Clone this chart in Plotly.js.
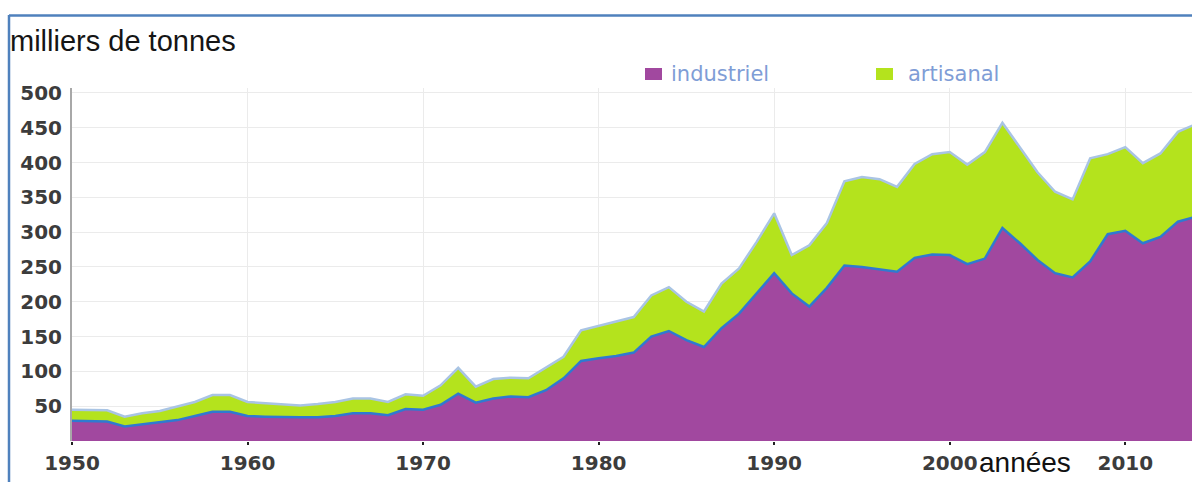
<!DOCTYPE html>
<html>
<head>
<meta charset="utf-8">
<script src="https://cdn.plot.ly/plotly-3.0.1.min.js"></script>
<style>
html,body{margin:0;padding:0;background:#fff;}
#chart{width:1192px;height:482px;}
</style>
</head>
<body>
<div id="chart"></div>
<script>
// ---- data ----
const years = [1950,1951,1952,1953,1954,1955,1956,1957,1958,1959,
  1960,1961,1962,1963,1964,1965,1966,1967,1968,1969,
  1970,1971,1972,1973,1974,1975,1976,1977,1978,1979,
  1980,1981,1982,1983,1984,1985,1986,1987,1988,1989,
  1990,1991,1992,1993,1994,1995,1996,1997,1998,1999,
  2000,2001,2002,2003,2004,2005,2006,2007,2008,2009,
  2010,2011,2012,2013,2014];
const industriel = [29,29,28,21,24,26,30,36,42,42,
  36,35,34,34,34,36,40,40,37,46,
  45,52,68,55,61,64,63,73,90,115,
  119,122,127,150,158,145,135,162,183,212,
  241,212,193,220,252,250,246,243,263,268,
  267,254,262,306,284,260,241,235,258,297,
  302,284,293,315,322];
const artisanal = [16,16,16,14,16,17,19,20,24,24,
  20,19,18,17,19,20,21,21,19,21,
  20,28,37,23,28,27,27,32,31,44,
  46,49,51,59,63,55,51,64,65,74,
  86,55,88,93,121,129,130,122,135,144,
  148,143,153,151,138,126,117,112,148,115,
  120,115,120,129,133];
const seriesNames = ["industriel","artisanal"];
const xTicks = [1950,1960,1970,1980,1990,2000,2010];
const yTicks = [50,100,150,200,250,300,350,400,450,500];
const yTitle = "milliers de tonnes";
const xTitle = "années";

// ---- styling ----
const W = 1192, H = 482;
const M = {l:72, r:0, t:88, b:41};
const PW = W - M.l - M.r, PH = H - M.t - M.b;
const px = x => (x - M.l) / PW;          // pixel -> paper x
const py = y => 1 - (y - M.t) / PH;      // pixel -> paper y
const PURPLE = "#a1489f", GREEN = "#b4e31d";
const tickFont = {family:"DejaVu Sans", size:20, color:"#3c3c3c", weight:"bold"};

const traces = [
  {x:years, y:industriel, name:seriesNames[0], type:"scatter", mode:"lines",
   stackgroup:"one", fillcolor:PURPLE, line:{color:"#2f7ad0", width:2.5}, hoverinfo:"skip"},
  {x:years, y:artisanal, name:seriesNames[1], type:"scatter", mode:"lines",
   stackgroup:"one", fillcolor:GREEN, line:{color:"#a9c4e4", width:2.5}, hoverinfo:"skip"}
];

const layout = {
  width:W, height:H, margin:M, showlegend:false,
  paper_bgcolor:"#fff", plot_bgcolor:"#fff",
  title:{text:yTitle, x:10/W, xanchor:"left", xref:"container",
         y:1-41/H, yref:"container", yanchor:"middle",
         font:{family:"Liberation Sans", size:29, color:"#151515"}},
  xaxis:{range:[1950,2013.8], tickvals:xTicks, showgrid:true, gridcolor:"#ebebeb", gridwidth:1,
         zeroline:false, showline:false, ticks:"outside", ticklen:3, tickwidth:2, tickcolor:"#222",
         tickfont:tickFont, ticklabelstandoff:1, fixedrange:true},
  yaxis:{range:[0,507], tickvals:yTicks, showgrid:true, gridcolor:"#ebebeb", gridwidth:1,
         zeroline:false, showline:true, linecolor:"#a8a8a8", linewidth:2,
         ticks:"", tickfont:tickFont, ticklabelstandoff:4, fixedrange:true},
  shapes:[
    // frame lines
    {type:"line", xref:"paper", yref:"paper", x0:px(9), x1:px(W), y0:py(15.5), y1:py(15.5),
     line:{color:"#4f81bd", width:2.5}},
    {type:"line", xref:"paper", yref:"paper", x0:px(9), x1:px(9), y0:py(15), y1:py(H),
     line:{color:"#4f81bd", width:2.5}},
    // legend swatches
    {type:"rect", xref:"paper", yref:"paper", x0:px(645), x1:px(662), y0:py(68), y1:py(80),
     fillcolor:PURPLE, line:{width:0}},
    {type:"rect", xref:"paper", yref:"paper", x0:px(876), x1:px(893), y0:py(68), y1:py(80),
     fillcolor:GREEN, line:{width:0}}
  ],
  annotations:[
    {text:seriesNames[0], xref:"paper", yref:"paper", x:px(669), y:py(74), xanchor:"left", yanchor:"middle",
     showarrow:false, font:{family:"DejaVu Sans", size:21, color:"#7f9dd6"}},
    {text:seriesNames[1], xref:"paper", yref:"paper", x:px(906), y:py(74), xanchor:"left", yanchor:"middle",
     showarrow:false, font:{family:"DejaVu Sans", size:21, color:"#7f9dd6"}},
    {text:xTitle, xref:"paper", yref:"paper", x:px(977), y:py(445), xanchor:"left", yanchor:"top",
     showarrow:false, font:{family:"Liberation Sans", size:28, color:"#111"}}
  ]
};

Plotly.newPlot("chart", traces, layout, {displayModeBar:false, staticPlot:true});
</script>
</body>
</html>
